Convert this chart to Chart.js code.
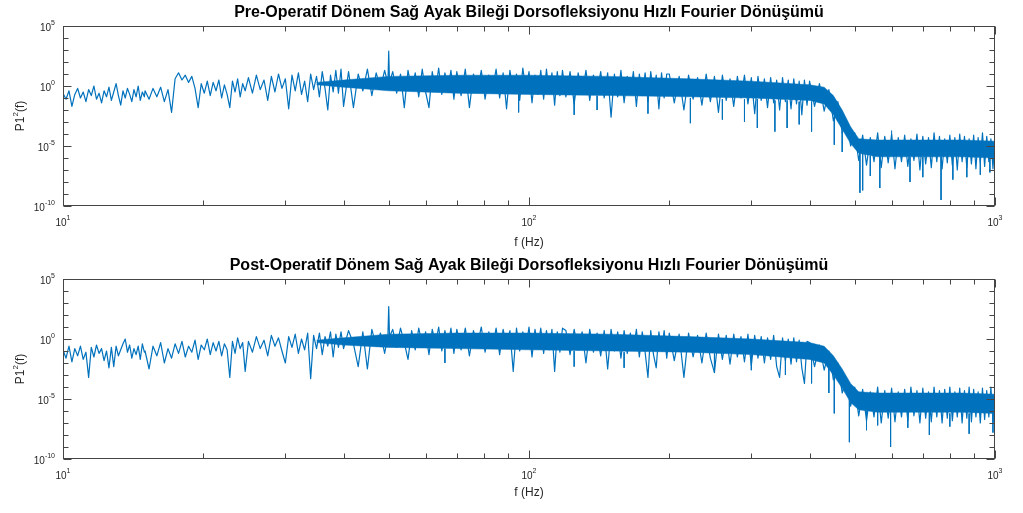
<!DOCTYPE html>
<html lang="tr">
<head>
<meta charset="utf-8">
<title>Hızlı Fourier Dönüşümü</title>
<script src="https://cdn.jsdelivr.net/npm/chart.js@4.4.1/dist/chart.umd.min.js"></script>
<style>
  html, body { margin: 0; padding: 0; background: #fff; }
  canvas { display: block; }
</style>
</head>
<body>
<canvas id="preChart" width="1023" height="253"></canvas>
<canvas id="postChart" width="1023" height="260"></canvas>
<script>
'use strict';

// ---- Frequency bins (Hz), shared by both spectra ----
const freqHz = [
  10, 10.15, 10.3, 10.45, 10.6, 10.75, 10.9, 11.05, 11.2, 11.35, 11.5, 11.65, 11.8, 11.95, 12.1, 12.25, 12.4, 12.55, 12.7, 12.85,
  13, 13.15, 13.3, 13.45, 13.6, 13.75, 13.9, 14.05, 14.2, 14.35, 14.5, 14.65, 14.8, 14.95,
  15, 15.3, 15.6, 15.9, 16.2, 16.5, 16.8, 17.1, 17.4, 17.7, 18, 18.3, 18.6, 18.9, 19.2, 19.5, 19.8,
  20.1, 20.4, 20.7, 21, 21.3, 21.6, 21.9, 22.2, 22.5, 22.8, 23.1, 23.4, 23.7, 24, 24.3, 24.6,
  25, 25.5, 26, 26.5, 27, 27.5, 28, 28.5, 29, 29.5, 30, 30.5, 31, 31.5, 32, 32.5, 33, 33.5, 34, 34.5,
  35, 35.5, 36, 36.5, 37, 37.5, 38, 38.5, 39, 39.5,
  40, 41, 42, 43, 44, 45, 46, 47, 48, 49, 49.8, 50, 50.2, 51, 52, 53, 54, 55, 56, 57, 58, 59, 60,
  61, 62, 63, 64, 65, 66, 67, 68, 69,
  70, 71.5, 73, 74.5, 76, 77.5, 79, 80.5, 82, 83.5, 85, 86.5, 88, 89.5, 91, 92.5, 94, 95.5, 97, 98.5,
  100, 101.5, 103, 104.5, 106, 107.5, 109, 110.5, 112, 113.5, 115, 116.5, 118,
  120, 122.5, 125, 127.5, 130, 132.5, 135, 137.5, 140, 142.5, 145, 147.5, 150, 152.5, 155, 157.5,
  160, 162.5, 165, 167.5, 170, 172.5, 175, 177.5, 180, 182.5, 185, 187.5, 190, 192.5, 195, 197.5,
  200, 205, 210, 215, 220, 225, 230, 235, 240, 245, 250, 255, 260, 265, 270, 275, 280, 285, 290, 295,
  300, 305, 310, 315, 320, 325, 330, 335, 340, 345, 350, 355, 360, 365, 370, 375, 380, 385, 390, 395,
  400, 410, 420, 430, 440, 450, 460, 470, 480, 490, 500, 510, 520, 530, 540, 550, 560, 570, 580, 590,
  600, 610, 620, 630, 640, 650, 660, 670, 680, 690, 700, 710, 720, 730, 740, 750, 760, 770, 780, 790,
  800, 810, 820, 830, 840, 850, 860, 870, 880, 890, 900, 910, 920, 930, 940, 950, 960, 970, 980, 990,
  1000,
];

// ---- log10 of P1^2 at each bin ----
const preTraceLog = [
  -0.6, -1.1, -0.4, -1.7, -0.7, -0.2, -1.0, -0.5, -1.3, -0.3, -0.8, 0.0, -1.1, -0.6, -1.4, -0.4, -0.9, -0.1, -1.2, -0.5,
  0.2, -0.8, -1.6, -0.4, -1.0, -0.2, -0.7, -1.3, -0.3, -0.9, 0.0, -1.2, -0.5, -0.9,
  -0.4, -1.1, -0.2, -0.9, -0.1, -1.3, -0.3, -2.2, 0.6, 1.1, 0.5, 0.9, 0.3, 0.8, -0.2, -1.8, 0.2,
  -0.6, 0.4, -0.8, 0.3, -0.4, 0.5, -1.0, 0.1, -0.7, -1.8, 0.4, -0.5, 0.6, -0.9, 0.2, -0.4,
  0.7, -0.6, 0.9, -0.3, 0.5, -1.2, 0.8, -0.5, 1.0, -0.2, 0.6, -1.9, 0.9, -0.4, 1.1, -0.7, 0.4, -1.3, 1.0, -0.3,
  0.8, -0.9, 1.2, -0.2, -2.0, 0.9, -0.5, 1.3, -0.6, 1.4,
  -1.7, 1.2, -1.8, 1.0, -0.4, 1.4, -0.8, 1.1, -0.2, 1.3, 0.2, 2.9, 0.3, 1.2, -0.6, 1.0, -1.8, 1.3, -0.3, 1.1, -0.9, 1.4, -0.5,
  -1.8, 1.2, -0.4, 1.5, -0.7, 1.1, -0.2, 1.3, -1.1,
  1.2, -0.8, 1.4, -1.8, 1.0, -0.5, 1.3, -1.1, 0.9, -0.3, 1.4, -1.0, 1.1, -1.9, 1.3, -0.6, 1.0, -1.2, 1.5, -0.4,
  1.2, -1.4, 0.9, -0.7, 1.3, -1.1, 1.4, -0.5, 1.1, -1.6, 1.2, -0.8, 1.3,
  -0.9, 1.2, -1.5, 1.1, -0.7, 1.3, -1.2, 0.9, -0.6, 1.2, -1.0, 1.1, -2.6, 1.0, -0.9, 1.3,
  -1.4, 0.8, -0.6, 1.2, -1.7, 1.0, -0.8, 1.1, -1.3, 1.2, -0.7, 0.9, -1.9, 1.1, -1.0, 1.0,
  1.0, -1.4, 0.8, -2.0, 0.9, -1.1, 0.7, -1.6, 1.0, -1.3, 0.8, -2.2, 0.9, -1.2, 0.6, -1.7, 0.8, -1.0, 0.9, -1.5,
  0.7, -2.3, 0.8, -1.2, 0.6, -1.8, 0.7, -1.4, 0.5, -2.0, 0.7, -1.3, 0.5, -1.9, 0.6, -1.5, 0.4, -2.4, 0.5, -1.6,
  0.4, -1.7, 0.2, -2.1, -0.3, -2.9, -1.3, -3.9, -2.9, -5.0, -3.9, -6.2, -4.1, -6.6, -4.3, -6.3, -3.9, -6.8, -4.2, -6.4,
  -4.0, -6.9, -4.3, -6.3, -4.1, -6.7, -4.4, -6.2, -4.0, -7.0, -4.2, -6.5, -4.3, -6.8, -3.9, -6.3, -4.2, -6.9, -4.4, -6.4,
  -4.1, -6.6, -4.3, -7.0, -4.0, -6.3, -4.2, -6.8, -4.4, -6.5, -4.1, -6.9, -4.3, -6.4, -3.9, -6.7, -4.2, -6.3, -4.4, -6.9,
  -4.2,
];

const postTraceLog = [
  -0.9, -1.6, -0.6, -1.9, -0.8, -1.4, -0.6, -1.7, -1.1, -3.2, -0.7, -1.5, -0.5, -1.2, -0.8, -1.8, -1.0, -2.4, -0.7, -2.3,
  -0.6, -1.4, -0.9, -0.4, 0.0, -1.1, -0.5, -1.6, -0.8, -1.3, -0.6, -1.7, -0.4, -1.1,
  -1.0, -2.5, -0.6, -1.4, -0.3, -2.0, -0.8, -1.6, -0.4, -1.2, -0.2, -1.5, -0.6, -1.1, -0.1, -1.7, -0.5,
  -0.9, 0.0, -1.3, -0.3, -1.0, -0.2, -1.4, -0.4, -0.9, -3.2, -0.2, -1.2, 0.1, -0.8, -0.3, -2.7,
  -0.2, -1.1, 0.2, -0.8, -0.1, -1.4, 0.3, -0.6, 0.1, -1.0, -2.0, 0.2, -0.7, 0.4, -1.2, 0.0, -0.9, 0.5, -3.3, 0.3,
  -0.8, 0.5, -1.3, 0.2, -0.6, 0.6, -1.5, 0.4, -0.7, 0.6,
  -0.8, 0.7, -0.4, -2.3, 0.6, -2.5, 0.8, -0.6, 0.5, -1.2, 0.3, 2.7, 0.2, 0.8, -0.7, 0.9, -0.3, -1.7, 0.7, -0.9, 0.9, -0.5, 0.6,
  -1.3, 0.8, -0.4, 1.0, -1.0, 0.7, -0.6, 0.9, -1.2,
  0.8, -0.9, 0.9, -1.4, 0.7, -0.5, 1.0, -1.1, 0.6, -0.7, 0.9, -1.3, 0.8, -0.6, 0.7, -2.7, 0.9, -1.0, 0.6, -0.8,
  1.0, -1.5, 0.8, -0.6, 0.9, -1.2, 0.7, -0.9, 0.8, -2.7, 0.6, -1.1, 0.9,
  0.7, -1.3, 0.8, -0.9, 0.6, -2.0, 0.8, -1.1, 0.5, -1.4, 0.7, -2.5, 0.8, -1.0, 0.6, -1.6,
  0.7, -1.2, 0.5, -0.9, 0.8, -1.5, 0.6, -1.1, -3.2, 0.7, -1.3, -2.4, 0.6, -1.0, 0.7, -1.6,
  0.5, -1.8, 0.4, -3.2, 0.5, -1.5, 0.3, -2.0, 0.5, -1.6, -2.8, 0.4, -1.7, 0.3, -2.1, 0.4, -1.5, 0.2, -1.9, 0.4,
  -2.2, 0.3, -1.6, 0.2, -2.0, 0.1, -1.7, 0.3, -2.3, -3.2, 0.1, -1.8, 0.0, -2.1, 0.1, -1.9, -0.1, -2.4, -3.7, -0.2,
  -0.3, -2.3, -0.5, -2.6, -1.0, -3.4, -2.0, -4.5, -3.3, -5.6, -4.0, -6.4, -4.2, -6.8, -4.4, -6.5, -4.0, -7.0, -4.3, -6.6,
  -4.1, -6.9, -4.4, -6.5, -4.2, -6.8, -4.0, -6.4, -4.3, -7.0, -4.1, -6.6, -4.4, -6.9, -4.0, -6.5, -4.3, -7.0, -4.2, -6.6,
  -4.0, -6.8, -4.4, -6.5, -4.1, -7.0, -4.3, -6.6, -4.0, -6.9, -4.2, -6.5, -4.4, -7.0, -4.1, -6.7, -4.3, -6.5, -4.0, -6.9,
  -4.3,
];

// ---- Dense core of each spectrum: upper / lower edge (log10) ----
const bandHz = [35, 40, 50, 70, 100, 150, 220, 300, 400, 430, 450, 470, 490, 510, 560, 700, 850, 1000];
const preBandHiLog  = [0.3, 0.5, 0.8, 0.9, 0.9, 0.8, 0.6, 0.4, 0.1, -0.1, -0.8, -2.0, -3.4, -4.4, -4.5, -4.5, -4.5, -4.6];
const preBandLoLog  = [0.1, -0.1, -0.4, -0.6, -0.7, -0.8, -0.9, -1.0, -1.2, -1.5, -2.4, -3.6, -4.8, -5.6, -5.9, -5.9, -5.9, -6.0];
const postBandHiLog = [-0.1, 0.1, 0.4, 0.5, 0.5, 0.4, 0.2, 0.0, -0.3, -0.6, -1.4, -2.5, -3.7, -4.4, -4.5, -4.5, -4.5, -4.6];
const postBandLoLog = [-0.3, -0.5, -0.7, -0.8, -0.9, -1.0, -1.1, -1.3, -1.7, -2.0, -3.0, -4.1, -5.3, -5.9, -6.1, -6.1, -6.1, -6.2];

// ---- Single-bin spikes: frequency, start and tip (log10) ----
const preSpikeHz      = [95, 125, 140, 180, 222, 260, 290, 309, 337, 358, 380, 404, 452, 470, 513, 520, 540, 566, 600, 657, 700, 766, 812, 870, 930, 975];
const preSpikeBaseLog = [-0.6, -0.8, -0.8, -0.9, -1.0, -1.1, -1.1, -1.1, -1.2, -1.2, -1.3, -1.3, -2.6, -3.8, -5.6, -5.6, -5.8, -5.8, -4.4, -5.9, -5.9, -5.9, -5.9, -6.0, -6.0, -6.0];
const preSpikeTipLog  = [-2.2, -2.4, -2.0, -2.3, -3.1, -2.8, -3.0, -3.5, -3.8, -3.5, -3.2, -3.8, -4.9, -5.5, -8.9, -8.7, -7.5, -8.5, -3.7, -8.0, -7.6, -9.5, -7.8, -7.6, -7.4, -7.2];

const postSpikeHz      = [66, 125, 160, 250, 300, 355, 404, 440, 452, 487, 530, 560, 597, 650, 723, 800, 880, 990];
const postSpikeBaseLog = [-0.8, -1.0, -1.1, -1.2, -1.3, -1.5, -1.7, -2.0, -2.6, -5.0, -6.0, -6.0, -6.1, -6.1, -6.1, -6.2, -6.2, -6.2];
const postSpikeTipLog  = [-2.0, -2.3, -2.4, -2.8, -2.6, -3.0, -3.7, -4.5, -6.2, -8.6, -7.6, -7.2, -9.0, -7.4, -8.0, -7.3, -7.9, -7.8];

// ---- Axis ticks (exponents of 10) ----
const xTickExp = [1, 2, 3];
const yTickExp = [5, 0, -5, -10];

const LINE = '#0072BD';
const AXIS = '#454545';
const TEXT = '#262626';
const FONT = "'Liberation Sans', Arial, Helvetica, sans-serif";

function toPoints(xs, logs) {
  return xs.map((f, i) => ({ x: f, y: Math.pow(10, logs[i]) }));
}

function spikePoints(xs, baseLog, tipLog) {
  const pts = [];
  xs.forEach((f, i) => {
    pts.push({ x: f, y: Math.pow(10, baseLog[i]) });
    pts.push({ x: f, y: Math.pow(10, tipLog[i]) });
    pts.push({ x: f, y: null });
  });
  return pts;
}

// "10" with a raised exponent
function drawPow(ctx, exp, x, y, align) {
  ctx.font = '10px ' + FONT;
  const bw = ctx.measureText('10').width;
  ctx.font = '7px ' + FONT;
  const sup = String(exp);
  const sw = ctx.measureText(sup).width;
  const left = align === 'right' ? x - bw - sw : x - (bw + sw) / 2;
  ctx.textAlign = 'left';
  ctx.textBaseline = 'middle';
  ctx.font = '10px ' + FONT;
  ctx.fillText('10', left, y);
  ctx.font = '7px ' + FONT;
  ctx.fillText(sup, left + bw, y - 5);
}

// MATLAB-like box, inward ticks and labels
const matlabAxes = {
  id: 'matlabAxes',
  afterDatasetsDraw(chart, args, opts) {
    const { ctx, chartArea: a, scales: { x, y } } = chart;
    const L = Math.round(a.left) + 0.5, R = Math.round(a.right) - 0.5;
    const T = Math.round(a.top) + 0.5, B = Math.round(a.bottom) - 0.5;
    ctx.save();
    ctx.strokeStyle = AXIS;
    ctx.lineWidth = 1;
    ctx.strokeRect(L, T, R - L, B - T);

    ctx.beginPath();
    // x ticks: decades long, 2..9 short
    for (let d = 10; d <= 1000; d *= 10) {
      for (let m = 1; m <= 9; m++) {
        const v = d * m;
        if (v > 1000) break;
        const px = Math.round(x.getPixelForValue(v)) + 0.5;
        const len = m === 1 ? 8 : 5;
        ctx.moveTo(px, B); ctx.lineTo(px, B - len);
        ctx.moveTo(px, T); ctx.lineTo(px, T + len);
      }
    }
    // y ticks: every decade, labelled ones long
    for (let e = -10; e <= 5; e++) {
      const py = Math.round(y.getPixelForValue(Math.pow(10, e))) + 0.5;
      const len = yTickExp.includes(e) ? 8 : 5;
      ctx.moveTo(L, py); ctx.lineTo(L + len, py);
      ctx.moveTo(R, py); ctx.lineTo(R - len, py);
    }
    ctx.stroke();

    ctx.fillStyle = TEXT;
    yTickExp.forEach(e => drawPow(ctx, e, a.left - 8, y.getPixelForValue(Math.pow(10, e)) + 2, 'right'));
    xTickExp.forEach(e => drawPow(ctx, e, x.getPixelForValue(Math.pow(10, e)), a.bottom + 17, 'center'));

    const cx = (a.left + a.right) / 2;
    ctx.textAlign = 'center';
    ctx.textBaseline = 'middle';
    ctx.font = '12px ' + FONT;
    ctx.fillText('f (Hz)', cx, opts.xLabelY);

    ctx.fillStyle = '#000';
    ctx.font = 'bold 16px ' + FONT;
    ctx.fillText(opts.title, cx, 13);

    // rotated y label P1^2(f)
    ctx.fillStyle = TEXT;
    ctx.translate(21, (a.top + a.bottom) / 2);
    ctx.rotate(-Math.PI / 2);
    ctx.textAlign = 'left';
    ctx.font = '12px ' + FONT;
    const w1 = ctx.measureText('P1').width, w3 = ctx.measureText('(f)').width;
    ctx.font = '8px ' + FONT;
    const w2 = ctx.measureText('2').width;
    const px = -(w1 + w2 + w3) / 2;
    ctx.font = '12px ' + FONT;
    ctx.fillText('P1', px, 0);
    ctx.font = '8px ' + FONT;
    ctx.fillText('2', px + w1, -5);
    ctx.font = '12px ' + FONT;
    ctx.fillText('(f)', px + w1 + w2, 0);
    ctx.restore();
  },
};

function buildSpectrum(id, traceLog, bandHiLog, bandLoLog, spikeHz, spikeBaseLog, spikeTipLog, title, xLabelY) {
  const canvas = document.getElementById(id);
  return new Chart(canvas, {
    type: 'line',
    data: {
      datasets: [
        {
          data: toPoints(freqHz, traceLog),
          borderColor: LINE, borderWidth: 1.2, borderJoinStyle: 'round',
          pointRadius: 0, fill: false,
        },
        {
          data: spikePoints(spikeHz, spikeBaseLog, spikeTipLog),
          borderColor: LINE, borderWidth: 1,
          pointRadius: 0, fill: false, spanGaps: false,
        },
        {
          data: toPoints(bandHz, bandHiLog),
          borderColor: LINE, borderWidth: 0.5, backgroundColor: LINE,
          pointRadius: 0, fill: '+1',
        },
        {
          data: toPoints(bandHz, bandLoLog),
          borderColor: LINE, borderWidth: 0.5,
          pointRadius: 0, fill: false,
        },
      ],
    },
    options: {
      responsive: false,
      animation: false,
      devicePixelRatio: 1,
      layout: { padding: { left: 63, right: 28, top: 26, bottom: canvas.height - 206 } },
      plugins: {
        legend: { display: false },
        tooltip: { enabled: false },
        matlabAxes: { title, xLabelY },
      },
      scales: {
        x: { type: 'logarithmic', min: 10, max: 1000, display: false },
        y: { type: 'logarithmic', min: 1e-10, max: 1e5, display: false },
      },
    },
    plugins: [matlabAxes],
  });
}

buildSpectrum('preChart', preTraceLog, preBandHiLog, preBandLoLog,
  preSpikeHz, preSpikeBaseLog, preSpikeTipLog,
  'Pre-Operatif Dönem Sağ Ayak Bileği Dorsofleksiyonu Hızlı Fourier Dönüşümü', 243);
buildSpectrum('postChart', postTraceLog, postBandHiLog, postBandLoLog,
  postSpikeHz, postSpikeBaseLog, postSpikeTipLog,
  'Post-Operatif Dönem Sağ Ayak Bileği Dorsofleksiyonu Hızlı Fourier Dönüşümü', 240);
</script>
</body>
</html>
